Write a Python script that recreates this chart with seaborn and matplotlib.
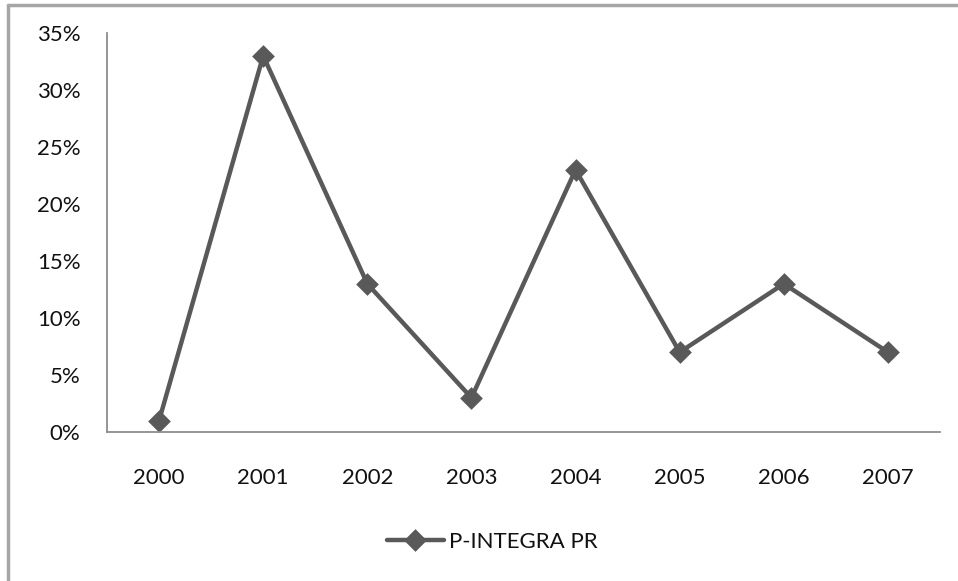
import pandas as pd
import matplotlib.pyplot as plt
import seaborn as sns
from matplotlib.ticker import PercentFormatter

sns.set_theme(style="white")
plt.rcParams['font.family'] = ['Lato', 'DejaVu Sans']

# data
years = ['2000', '2001', '2002', '2003', '2004', '2005', '2006', '2007']
values = [1, 33, 13, 3, 23, 7, 13, 7]
series_name = 'P-INTEGRA PR'

df = pd.DataFrame({'Year': years, 'Value': values})

fig = plt.figure(figsize=(9.58, 5.81), dpi=100)
ax = fig.add_axes([107 / 958, 1 - 432 / 581, (940 - 107) / 958, (432 - 33) / 581])

line_color = '#595959'
sns.pointplot(data=df, x='Year', y='Value', ax=ax, color=line_color,
              markers='D', markersize=9, linewidth=3.2, label=series_name)

ax.set_ylim(0, 35)
ax.set_yticks(range(0, 36, 5))
ax.yaxis.set_major_formatter(PercentFormatter(decimals=0))
ax.set_xlim(-0.5, len(years) - 0.5)
ax.set_xlabel('')
ax.set_ylabel('')

for side in ['top', 'right']:
    ax.spines[side].set_visible(False)
for side in ['left', 'bottom']:
    ax.spines[side].set_color('#8c8c8c')
    ax.spines[side].set_linewidth(1.3)

ax.tick_params(axis='y', length=0, pad=19, labelsize=16, colors='#111111')
ax.tick_params(axis='x', length=0, pad=26, labelsize=16, colors='#111111')
ax.grid(False)

# legend at the bottom
leg = ax.get_legend()
if leg is not None:
    leg.remove()
handles, labels = ax.get_legend_handles_labels()
fig.legend(handles[:1], [series_name], loc='center',
           bbox_to_anchor=(492 / 958, 1 - 542 / 581), frameon=False,
           fontsize=16, handlelength=2.6, handletextpad=0.2,
           labelcolor='#111111')

# chart area border (only left and top edges visible)
fig.add_artist(plt.Line2D([8 / 958, 8 / 958], [0, 1 - 5 / 581],
                          transform=fig.transFigure, color='#a6a6a6', lw=2.5))
fig.add_artist(plt.Line2D([8 / 958, 1], [1 - 5 / 581, 1 - 5 / 581],
                          transform=fig.transFigure, color='#a6a6a6', lw=2.5))

fig.savefig('out.png', dpi=100)
